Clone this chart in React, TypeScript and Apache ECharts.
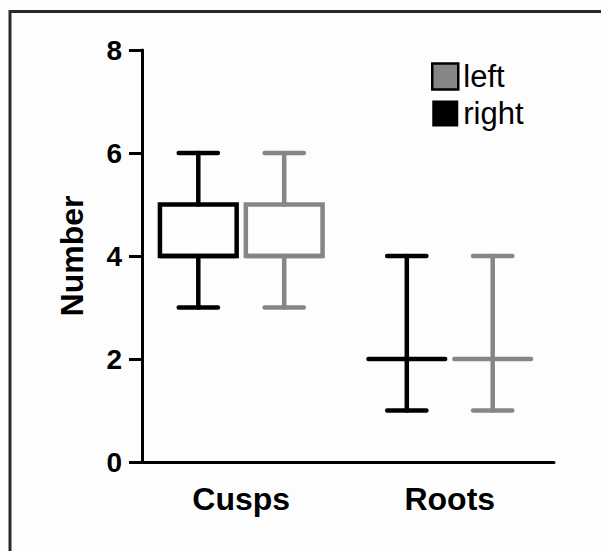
import React, { useEffect, useRef } from "react";
import * as echarts from "echarts";

const categories = ["Cusps", "Roots"];
const yTickMin = 0;
const yTickMax = 8;
const yTickStep = 2;
// box statistics per category: [min, q1, median, q3, max]
const rightStats = [
  [3, 4, 4, 5, 6],
  [1, 2, 2, 2, 4],
];
const leftStats = [
  [3, 4, 4, 5, 6],
  [1, 2, 2, 2, 4],
];
const legendOrder = ["left", "right"];

const BLACK = "#000000";
const GRAY = "#868686";
const FONT = "'Liberation Sans', Arial, Helvetica, sans-serif";

function makeRender(color: string, side: number) {
  return (params: any, api: any) => {
    const cat = api.value(0);
    const band = api.size([1, 0])[0];
    const cx = api.coord([cat, 0])[0] + side * band * 0.206;
    const y = (v: number) => api.coord([cat, v])[1];
    const yMin = y(api.value(1));
    const yQ1 = y(api.value(2));
    const yMed = y(api.value(3));
    const yQ3 = y(api.value(4));
    const yMax = y(api.value(5));
    const halfBox = band * 0.184;
    const halfCap = band * 0.094;
    const lw = 4.5;
    const style = { stroke: color, lineWidth: lw, fill: null, lineCap: "round" };
    const children: any[] = [
      { type: "line", shape: { x1: cx, y1: yMax, x2: cx, y2: yQ3 }, style },
      { type: "line", shape: { x1: cx, y1: yQ1, x2: cx, y2: yMin }, style },
      { type: "line", shape: { x1: cx - halfCap, y1: yMax, x2: cx + halfCap, y2: yMax }, style },
      { type: "line", shape: { x1: cx - halfCap, y1: yMin, x2: cx + halfCap, y2: yMin }, style },
    ];
    if (Math.abs(yQ1 - yQ3) > 0.5) {
      children.push({
        type: "rect",
        shape: { x: cx - halfBox, y: yQ3, width: halfBox * 2, height: yQ1 - yQ3 },
        style: { stroke: color, lineWidth: lw, fill: "none", lineJoin: "miter" },
      });
      children.push({
        type: "line",
        shape: { x1: cx - halfBox, y1: yMed, x2: cx + halfBox, y2: yMed },
        style: { stroke: color, lineWidth: lw, fill: null, lineCap: "butt" },
      });
    } else {
      children.push({
        type: "line",
        shape: { x1: cx - halfBox, y1: yMed, x2: cx + halfBox, y2: yMed },
        style,
      });
    }
    return { type: "group", children };
  };
}

export default function App() {
  const ref = useRef<HTMLDivElement>(null);
  useEffect(() => {
    if (!ref.current) return;
    const chart = echarts.init(ref.current, null, { renderer: "svg" });
    const rightData = rightStats.map((s, i) => [i, ...s]);
    const leftData = leftStats.map((s, i) => [i, ...s]);
    chart.setOption({
      animation: false,
      backgroundColor: "#fdfdfd",
      textStyle: { fontFamily: FONT },
      graphic: [
        {
          type: "rect",
          shape: { x: 10, y: 11.5, width: 700, height: 700 },
          style: { stroke: "#2a2a2a", lineWidth: 3, fill: "none" },
          silent: true,
        },
      ],
      legend: {
        orient: "vertical",
        left: 426,
        top: 56,
        itemWidth: 26,
        itemHeight: 26,
        itemGap: 6,
        selectedMode: false,
        textStyle: { fontFamily: FONT, fontSize: 31, color: "#000" },
        data: [
          { name: legendOrder[0], icon: "rect", itemStyle: { color: GRAY, borderColor: BLACK, borderWidth: 2.5 } },
          { name: legendOrder[1], icon: "rect", itemStyle: { color: BLACK, borderColor: BLACK, borderWidth: 0 } },
        ],
      },
      grid: { left: 137, right: 47, top: 50, bottom: 89 },
      xAxis: {
        type: "category",
        data: categories,
        axisLine: { lineStyle: { color: BLACK, width: 3 } },
        axisTick: { show: false },
        axisLabel: { color: BLACK, fontSize: 32, fontWeight: "bold", fontFamily: FONT, margin: 21 },
        splitLine: { show: false },
      },
      yAxis: {
        type: "value",
        min: yTickMin,
        max: yTickMax,
        interval: yTickStep,
        offset: -5,
        name: "Number",
        nameLocation: "middle",
        nameGap: 54,
        nameTextStyle: { color: BLACK, fontSize: 32, fontWeight: "bold", fontFamily: FONT },
        axisLine: { show: true, lineStyle: { color: BLACK, width: 3 } },
        axisTick: { show: true, inside: false, length: 13, lineStyle: { color: BLACK, width: 3 } },
        axisLabel: { color: BLACK, fontSize: 28, fontWeight: "bold", fontFamily: FONT, margin: 20 },
        splitLine: { show: false },
      },
      series: [
        {
          name: "right",
          type: "custom",
          color: BLACK,
          renderItem: makeRender(BLACK, -1),
          encode: { x: 0, y: [1, 2, 3, 4, 5] },
          data: rightData,
        },
        {
          name: "left",
          type: "custom",
          color: GRAY,
          renderItem: makeRender(GRAY, 1),
          encode: { x: 0, y: [1, 2, 3, 4, 5] },
          data: leftData,
        },
      ],
    });
    return () => chart.dispose();
  }, []);
  return (
    <div
      ref={ref}
      style={{ position: "absolute", left: 0, top: 0, width: 601, height: 551 }}
    />
  );
}
